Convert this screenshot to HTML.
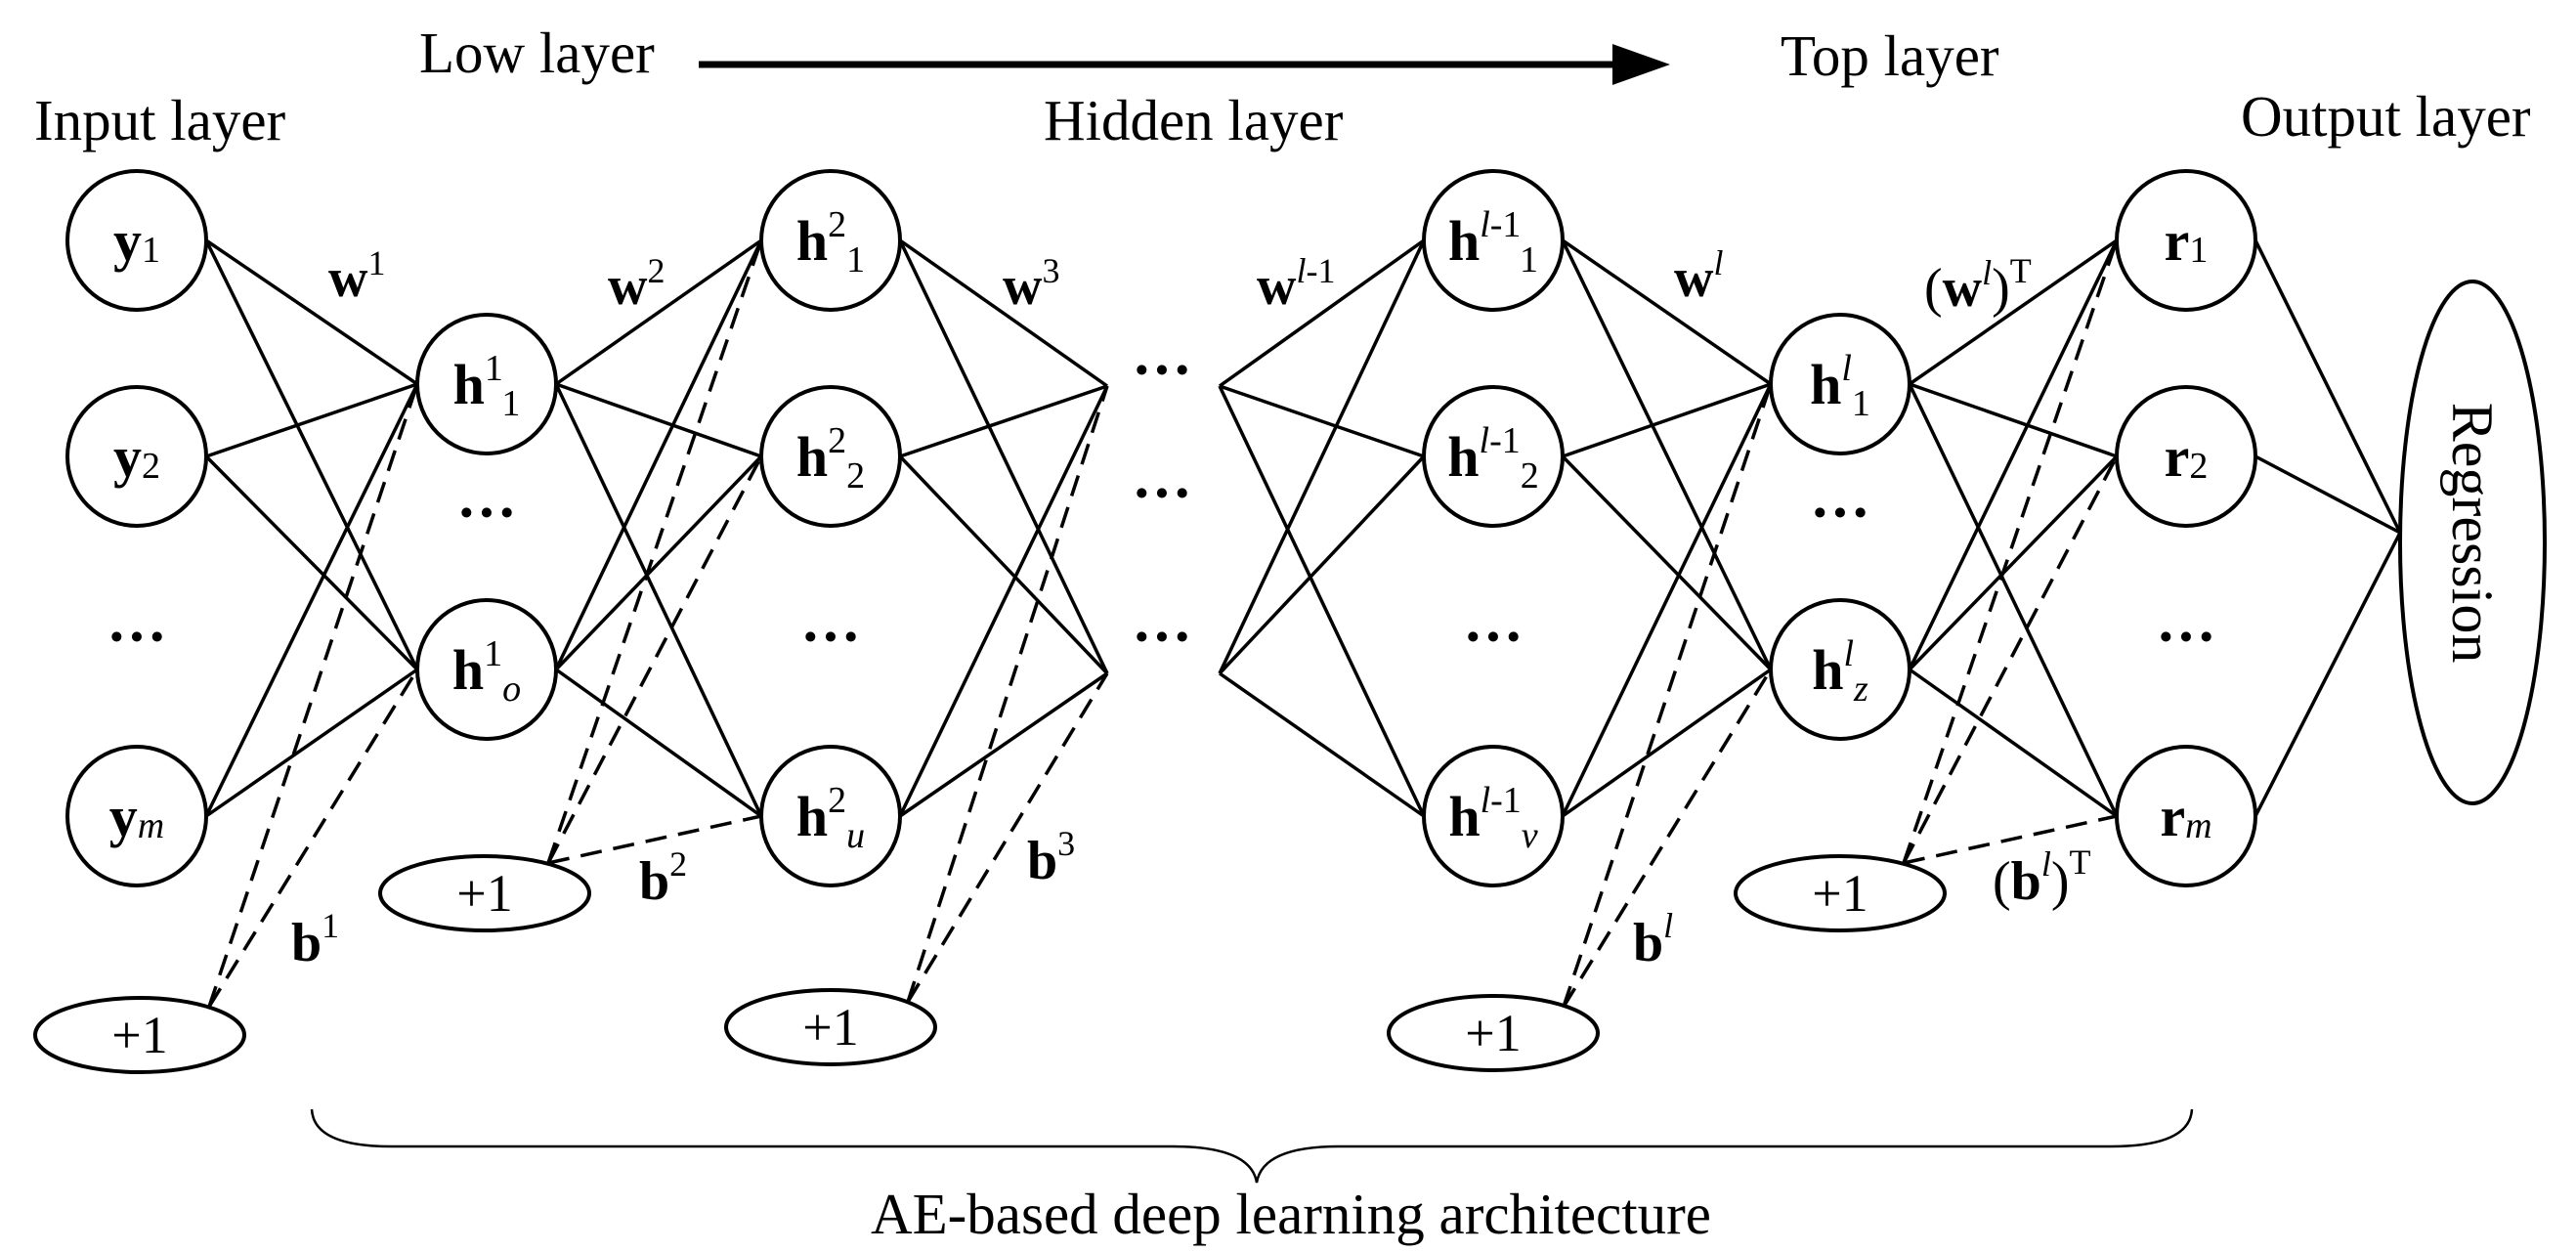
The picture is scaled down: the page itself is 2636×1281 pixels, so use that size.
<!DOCTYPE html>
<html><head><meta charset="utf-8"><style>
html,body{margin:0;padding:0;background:#fff;}
svg{display:block;font-family:"Liberation Serif",serif;}
</style></head><body>
<svg id="s" width="2636" height="1281" viewBox="0 0 2636 1281" xmlns="http://www.w3.org/2000/svg">
<g id="lines" stroke="#000" stroke-width="3.5" fill="none"></g>
<g stroke="#000" stroke-width="4" fill="#fff">
<circle cx="140" cy="246" r="71"/><circle cx="140" cy="467" r="71"/><circle cx="140" cy="835" r="71"/>
<circle cx="498" cy="393" r="71"/><circle cx="498" cy="685" r="71"/>
<circle cx="850" cy="246" r="71"/><circle cx="850" cy="467" r="71"/><circle cx="850" cy="835" r="71"/>
<circle cx="1528" cy="246" r="71"/><circle cx="1528" cy="467" r="71"/><circle cx="1528" cy="835" r="71"/>
<circle cx="1883" cy="393" r="71"/><circle cx="1883" cy="685" r="71"/>
<circle cx="2237" cy="246" r="71"/><circle cx="2237" cy="467" r="71"/><circle cx="2237" cy="835" r="71"/>
<ellipse cx="2530" cy="555" rx="74" ry="267"/>
<ellipse cx="143" cy="1059" rx="107" ry="38"/>
<ellipse cx="496" cy="914" rx="107" ry="38"/>
<ellipse cx="850" cy="1051" rx="107" ry="38"/>
<ellipse cx="1528" cy="1057" rx="107" ry="38"/>
<ellipse cx="1883" cy="914" rx="107" ry="38"/>
</g>
<line x1="715" y1="66" x2="1655" y2="66" stroke="#000" stroke-width="7"/>
<polygon points="1650,45 1709,66 1650,87" fill="#000"/>
<path d="M319,1135 Q321,1173 400,1173 L1200,1173 Q1280,1173 1286,1210 Q1292,1173 1370,1173 L2160,1173 Q2241,1173 2243,1135" stroke="#000" stroke-width="2.5" fill="none"/>
<g font-size="59" fill="#000">
<text x="429" y="74">Low layer</text>
<text x="1822" y="77">Top layer</text>
<text x="35" y="143">Input layer</text>
<text x="1068" y="143">Hidden layer</text>
<text x="2293" y="139">Output layer</text>
<text x="891" y="1262">AE-based deep learning architecture</text>
<text transform="translate(2510,545) rotate(90)" text-anchor="middle" font-size="60">Regression</text>
<g font-size="54">
<text x="143" y="1077" text-anchor="middle">+1</text>
<text x="496" y="932" text-anchor="middle">+1</text>
<text x="850" y="1069" text-anchor="middle">+1</text>
<text x="1528" y="1075" text-anchor="middle">+1</text>
<text x="1883" y="932" text-anchor="middle">+1</text>
</g>
</g>
<g font-size="58" fill="#000" text-anchor="middle">
<text x="140" y="266"><tspan font-weight="bold">y</tspan><tspan font-size="38" dy="2">1</tspan></text>
<text x="140" y="487"><tspan font-weight="bold">y</tspan><tspan font-size="38" dy="2">2</tspan></text>
<text x="140" y="855"><tspan font-weight="bold">y</tspan><tspan font-size="38" dy="2" font-style="italic">m</tspan></text>
<text x="140" y="672" font-weight="bold" font-size="62">···</text>
<text x="498" y="413"><tspan font-weight="bold">h</tspan><tspan font-size="38" dy="-24">1</tspan><tspan font-size="38" dy="36">1</tspan></text>
<text x="498" y="705"><tspan font-weight="bold">h</tspan><tspan font-size="38" dy="-24">1</tspan><tspan font-size="38" dy="36" font-style="italic">o</tspan></text>
<text x="498" y="545" font-weight="bold" font-size="62">···</text>
<text x="850" y="266"><tspan font-weight="bold">h</tspan><tspan font-size="38" dy="-24">2</tspan><tspan font-size="38" dy="36">1</tspan></text>
<text x="850" y="487"><tspan font-weight="bold">h</tspan><tspan font-size="38" dy="-24">2</tspan><tspan font-size="38" dy="36">2</tspan></text>
<text x="850" y="855"><tspan font-weight="bold">h</tspan><tspan font-size="38" dy="-24">2</tspan><tspan font-size="38" dy="36" font-style="italic">u</tspan></text>
<text x="850" y="672" font-weight="bold" font-size="62">···</text>
<text x="1189" y="399" font-weight="bold" font-size="62">···</text>
<text x="1189" y="525" font-weight="bold" font-size="62">···</text>
<text x="1189" y="672" font-weight="bold" font-size="62">···</text>
<text x="1528" y="266"><tspan font-weight="bold">h</tspan><tspan font-size="38" dy="-24" font-style="italic">l</tspan><tspan font-size="38">-1</tspan><tspan font-size="38" dy="36">1</tspan></text>
<text x="1528" y="487"><tspan font-weight="bold">h</tspan><tspan font-size="38" dy="-24" font-style="italic">l</tspan><tspan font-size="38">-1</tspan><tspan font-size="38" dy="36">2</tspan></text>
<text x="1528" y="855"><tspan font-weight="bold">h</tspan><tspan font-size="38" dy="-24" font-style="italic">l</tspan><tspan font-size="38">-1</tspan><tspan font-size="38" dy="36" font-style="italic">v</tspan></text>
<text x="1528" y="672" font-weight="bold" font-size="62">···</text>
<text x="1883" y="413"><tspan font-weight="bold">h</tspan><tspan font-size="38" dy="-24" font-style="italic">l</tspan><tspan font-size="38" dy="36">1</tspan></text>
<text x="1883" y="705"><tspan font-weight="bold">h</tspan><tspan font-size="38" dy="-24" font-style="italic">l</tspan><tspan font-size="38" dy="36" font-style="italic">z</tspan></text>
<text x="1883" y="545" font-weight="bold" font-size="62">···</text>
<text x="2237" y="266"><tspan font-weight="bold">r</tspan><tspan font-size="38" dy="2">1</tspan></text>
<text x="2237" y="487"><tspan font-weight="bold">r</tspan><tspan font-size="38" dy="2">2</tspan></text>
<text x="2237" y="855"><tspan font-weight="bold">r</tspan><tspan font-size="38" dy="2" font-style="italic">m</tspan></text>
<text x="2237" y="672" font-weight="bold" font-size="62">···</text>
</g>
<g font-size="56" fill="#000">
<text x="336" y="303"><tspan font-weight="bold">w</tspan><tspan font-size="36" dy="-22">1</tspan></text>
<text x="622" y="311"><tspan font-weight="bold">w</tspan><tspan font-size="36" dy="-22">2</tspan></text>
<text x="1026" y="311"><tspan font-weight="bold">w</tspan><tspan font-size="36" dy="-22">3</tspan></text>
<text x="1286" y="311"><tspan font-weight="bold">w</tspan><tspan font-size="36" dy="-22" font-style="italic">l</tspan><tspan font-size="36">-1</tspan></text>
<text x="1713" y="303"><tspan font-weight="bold">w</tspan><tspan font-size="36" dy="-22" font-style="italic">l</tspan></text>
<text x="1969" y="313">(<tspan font-weight="bold">w</tspan><tspan font-size="36" dy="-22" font-style="italic">l</tspan><tspan dy="22">)</tspan><tspan font-size="36" dy="-24">T</tspan></text>
<text x="298" y="983"><tspan font-weight="bold">b</tspan><tspan font-size="36" dy="-24">1</tspan></text>
<text x="654" y="920"><tspan font-weight="bold">b</tspan><tspan font-size="36" dy="-24">2</tspan></text>
<text x="1051" y="899"><tspan font-weight="bold">b</tspan><tspan font-size="36" dy="-24">3</tspan></text>
<text x="1671" y="983"><tspan font-weight="bold">b</tspan><tspan font-size="36" dy="-24" font-style="italic">l</tspan></text>
<text x="2039" y="920">(<tspan font-weight="bold">b</tspan><tspan font-size="36" dy="-24" font-style="italic">l</tspan><tspan dy="24">)</tspan><tspan font-size="36" dy="-26">T</tspan></text>
</g>
</svg>
<script>
(function(){
var g=document.getElementById('lines'),NS="http://www.w3.org/2000/svg",r=71;
function L(a,b,c,d,dash){var l=document.createElementNS(NS,'line');l.setAttribute('x1',a);l.setAttribute('y1',b);l.setAttribute('x2',c);l.setAttribute('y2',d);if(dash)l.setAttribute('stroke-dasharray','22 12');g.appendChild(l);}
function full(A,ax,B,bx,ar,br){A.forEach(function(y1){B.forEach(function(y2){L(ax+ar,y1,bx-br,y2);});});}
var Y=[246,467,835],H=[393,685];
full(Y,140,H,498,r,r);
full(H,498,Y,850,r,r);
full(Y,850,[395,689],1133,r,0);
full([395,689],1248,Y,1528,0,r);
full(Y,1528,H,1883,r,r);
full(H,1883,Y,2237,r,r);
Y.forEach(function(y){L(2237+r,y,2456,545);});
function dsh(px,py,T){T.forEach(function(t){L(px,py,t[0],t[1],true);});}
dsh(214,1030,[[427,393],[427,685]]);
dsh(561,883,[[779,246],[779,467],[779,835]]);
dsh(929,1025,[[1133,395],[1133,689]]);
dsh(1600,1030,[[1812,393],[1812,685]]);
dsh(1948,883,[[2166,246],[2166,467],[2166,835]]);
})();
</script>
</body></html>
